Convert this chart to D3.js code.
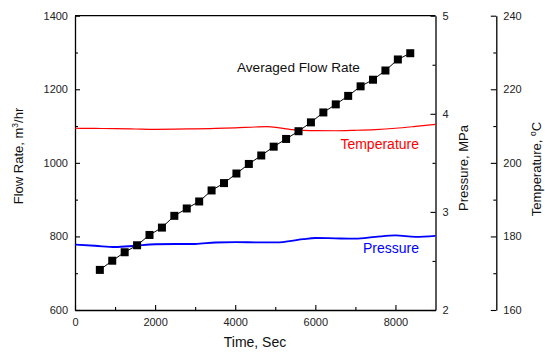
<!DOCTYPE html>
<html><head><meta charset="utf-8">
<script src="https://cdn.jsdelivr.net/npm/d3@7"></script>
<style>
body{margin:0;background:#fff;}
text{font-family:"Liberation Sans",Arial,sans-serif;}
</style></head>
<body><svg id="c" width="545" height="352"></svg>
<script>
// ---- data ----
const flowTime = [620,930,1240,1550,1860,2170,2480,2790,3100,3410,3720,4030,4340,4650,4960,5270,5580,5890,6200,6510,6820,7130,7440,7750,8060,8370];
const flowRate = [709,734,757,776,804,824,856,876,895,925,945,971,997,1020,1044,1065,1086,1110,1137,1159,1182,1208,1226,1251,1281,1298];
const lineTime = [0,500,1000,1500,2000,2500,3000,3500,4000,4500,4800,5100,5400,5700,6000,6500,7000,7500,8000,8500,9000];
const temperature = [209.4,209.35,209.3,209.2,209.1,209.15,209.25,209.35,209.5,209.75,209.85,209.5,209.05,208.85,208.75,208.72,208.85,209.05,209.4,209.9,210.45];
const pressure = [2.666,2.655,2.642,2.655,2.670,2.673,2.673,2.688,2.692,2.69,2.689,2.690,2.705,2.722,2.734,2.730,2.727,2.745,2.760,2.745,2.755];
const xTicks = [0,2000,4000,6000,8000];
const flowTicks = [600,800,1000,1200,1400];
const pressTicks = [2,3,4,5];
const tempTicks = [160,180,200,220,240];
const labels = {flow:"Averaged Flow Rate", temp:"Temperature", press:"Pressure"};

const svg = d3.select("#c");
const L=75, R=435.5, T=15.7, B=310;
const x = d3.scaleLinear([0,9000],[L,R]);
const yF = d3.scaleLinear([600,1400],[B,T]);
const yP = d3.scaleLinear([2,5],[B,T]);
const yT = d3.scaleLinear([160,240],[B,T]);

function styleAxis(g){
  g.selectAll("path").attr("stroke","#000").attr("stroke-width",1.3);
  g.selectAll("line").attr("stroke","#000").attr("stroke-width",1.1);
  g.selectAll("text").attr("font-size",11).attr("fill","#222")
   .attr("font-family","'Liberation Sans',Arial,sans-serif");
}
// top border
svg.append("line").attr("x1",L).attr("x2",R).attr("y1",T).attr("y2",T).attr("stroke","#000").attr("stroke-width",1.3);

// bottom axis
const gx = svg.append("g").attr("transform",`translate(0,${B})`);
gx.call(d3.axisBottom(x).tickValues(d3.range(1000,9000,2000)).tickSize(-3).tickFormat("").tickSizeOuter(0));
gx.call(g=>g.select(".domain").remove());
const gx2 = svg.append("g").attr("transform",`translate(0,${B})`);
gx2.call(d3.axisBottom(x).tickValues(xTicks).tickSize(-5).tickPadding(8).tickSizeOuter(0).tickFormat(d3.format("d")));
styleAxis(gx); styleAxis(gx2);

// left axis
const gy1 = svg.append("g").attr("transform",`translate(${L},0)`);
gy1.call(d3.axisLeft(yF).tickValues(d3.range(700,1400,200)).tickSize(-3).tickFormat("").tickSizeOuter(0));
gy1.call(g=>g.select(".domain").remove());
const gy2 = svg.append("g").attr("transform",`translate(${L},0)`);
gy2.call(d3.axisLeft(yF).tickValues(flowTicks).tickSize(-5).tickPadding(7).tickSizeOuter(0).tickFormat(d3.format("d")));
styleAxis(gy1); styleAxis(gy2);

// pressure axis (right of box)
const gp1 = svg.append("g").attr("transform",`translate(${R},0)`);
gp1.call(d3.axisRight(yP).tickValues([2.5,3.5,4.5]).tickSize(-3).tickFormat("").tickSizeOuter(0));
gp1.call(g=>g.select(".domain").remove());
const gp2 = svg.append("g").attr("transform",`translate(${R},0)`);
gp2.call(d3.axisRight(yP).tickValues(pressTicks).tickSize(-5).tickPadding(7).tickSizeOuter(0).tickFormat(d3.format("d")));
styleAxis(gp1); styleAxis(gp2);

// temperature axis (offset)
const TX = 496.3;
const gt1 = svg.append("g").attr("transform",`translate(${TX},0)`);
gt1.call(d3.axisRight(yT).tickValues([170,190,210,230]).tickSize(-3).tickFormat("").tickSizeOuter(0));
gt1.call(g=>g.select(".domain").remove());
const gt2 = svg.append("g").attr("transform",`translate(${TX},0)`);
gt2.call(d3.axisRight(yT).tickValues(tempTicks).tickSize(-5.5).tickPadding(7).tickSizeOuter(0).tickFormat(d3.format("d")));
styleAxis(gt1); styleAxis(gt2);

// temperature line
svg.append("path").datum(lineTime.map((t,i)=>[t,temperature[i]]))
  .attr("fill","none").attr("stroke","#ff0000").attr("stroke-width",1.2)
  .attr("d", d3.line().x(d=>x(d[0])).y(d=>yT(d[1])).curve(d3.curveMonotoneX));
// pressure line
svg.append("path").datum(lineTime.map((t,i)=>[t,pressure[i]]))
  .attr("fill","none").attr("stroke","#0000ff").attr("stroke-width",1.8)
  .attr("d", d3.line().x(d=>x(d[0])).y(d=>yP(d[1])).curve(d3.curveMonotoneX));
// flow line + squares
const fd = flowTime.map((t,i)=>[t,flowRate[i]]);
svg.append("path").datum(fd).attr("fill","none").attr("stroke","#000").attr("stroke-width",1)
  .attr("d", d3.line().x(d=>x(d[0])).y(d=>yF(d[1])));
svg.append("g").selectAll("rect").data(fd).join("rect")
  .attr("x",d=>x(d[0])-4).attr("y",d=>yF(d[1])-4).attr("width",8).attr("height",8).attr("fill","#000");

// in-plot labels
svg.append("text").attr("x",237).attr("y",72).attr("font-size",13.6).attr("fill","#111").text(labels.flow);
svg.append("text").attr("x",419).attr("y",149).attr("text-anchor","end").attr("font-size",14).attr("fill","#ff0000").text(labels.temp);
svg.append("text").attr("x",419).attr("y",253).attr("text-anchor","end").attr("font-size",14).attr("fill","#0000ff").text(labels.press);

// axis titles
svg.append("text").attr("x",255).attr("y",347).attr("text-anchor","middle").attr("font-size",14).attr("fill","#111").text("Time, Sec");
const ft = svg.append("text").attr("transform","translate(23,156) rotate(-90)").attr("text-anchor","middle").attr("font-size",13).attr("fill","#111");
ft.append("tspan").text("Flow Rate, m");
ft.append("tspan").attr("font-size",8.5).attr("dy",-5).text("3");
ft.append("tspan").attr("dy",5).text("/hr");
svg.append("text").attr("transform","translate(468,168) rotate(-90)").attr("text-anchor","middle").attr("font-size",13).attr("fill","#111").text("Pressure, MPa");
const tt = svg.append("text").attr("transform","translate(541,169) rotate(-90)").attr("text-anchor","middle").attr("font-size",13).attr("fill","#111");
tt.append("tspan").text("Temperature, ");
tt.append("tspan").attr("font-size",8.5).attr("dy",-5).text("o");
tt.append("tspan").attr("dy",5).text("C");
</script></body></html>
